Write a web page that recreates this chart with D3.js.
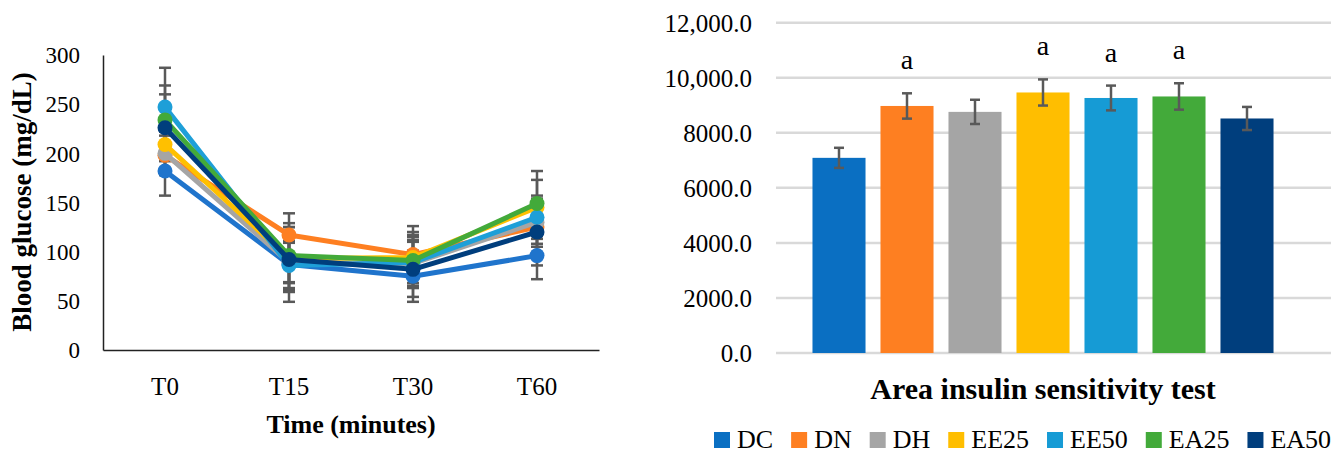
<!DOCTYPE html>
<html>
<head>
<meta charset="utf-8">
<script src="https://cdn.jsdelivr.net/npm/d3@7"></script>
<style>
  body { margin: 0; background: #fff; }
  svg text { font-family: "Liberation Serif", serif; fill: #000; }
</style>
</head>
<body>
<svg id="chart" width="1334" height="461"></svg>
<script>
// ---- data ----
var groups = ["DC", "DN", "DH", "EE25", "EE50", "EA25", "EA50"];
var colors = ["#0a6fc2", "#fe7f21", "#a5a5a5", "#ffbe00", "#169bd5", "#43aa3a", "#003e7d"];
var lineColors = ["#1f74cc", "#fe7f21", "#a5a5a5", "#ffc000", "#1e9fd8", "#43aa3a", "#003e7d"];

var times = ["T0", "T15", "T30", "T60"];
var glucoseTicks = [0, 50, 100, 150, 200, 250, 300];

// blood glucose per group (mg/dL) at T0, T15, T30, T60
var glucoseDC   = [182, 87, 75, 96];
var glucoseDN   = [198, 117, 97, 125];
var glucoseDH   = [200, 89, 88, 130];
var glucoseEE25 = [209, 93, 94, 145];
var glucoseEE50 = [247, 86, 89, 135];
var glucoseEA25 = [234, 96, 91, 149];
var glucoseEA50 = [226, 92, 82, 120];

// error (+/-)
var errDC   = [25, 38, 26, 24];
var errDN   = [20, 22, 29, 20];
var errDH   = [22, 20, 24, 22];
var errEE25 = [24, 25, 26, 28];
var errEE50 = [40, 25, 26, 22];
var errEA25 = [35, 33, 26, 33];
var errEA50 = [34, 33, 28, 34];

var glucose = [glucoseDC, glucoseDN, glucoseDH, glucoseEE25, glucoseEE50, glucoseEA25, glucoseEA50];
var glucoseErr = [errDC, errDN, errDH, errEE25, errEE50, errEA25, errEA50];

// area insulin sensitivity test
var areaValues = [7090, 8975, 8760, 9465, 9265, 9320, 8520];
var areaErr = [365, 460, 440, 475, 450, 480, 420];
var areaLetters = ["", "a", "", "a", "a", "a", ""];
var areaTickValues = [0, 2000, 4000, 6000, 8000, 10000, 12000];
var areaTickLabels = ["0.0", "2000.0", "4000.0", "6000.0", "8000.0", "10,000.0", "12,000.0"];

var svg = d3.select("#chart");
var errColor = "#595959";

// ================= left : line chart =================
var x1 = d3.scaleBand().domain(times).range([103, 599]);
var y1 = d3.scaleLinear().domain([0, 300]).range([350, 55]);

var left = svg.append("g").attr("class", "left");

var yAx1 = left.append("g")
  .attr("transform", "translate(103,0)")
  .call(d3.axisLeft(y1).tickValues(glucoseTicks).tickSize(0).tickPadding(23));
yAx1.select(".domain").attr("stroke", "#222").attr("stroke-width", 1.5);
yAx1.selectAll("text").style("font-size", "23px").attr("dy", "0.34em");

var xAx1 = left.append("g")
  .attr("transform", "translate(0,350)")
  .call(d3.axisBottom(x1).tickSize(0).tickPadding(27));
xAx1.select(".domain").attr("stroke", "#222").attr("stroke-width", 1.5);
xAx1.selectAll("text").style("font-size", "25px");

left.append("text")
  .attr("transform", "translate(31,202) rotate(-90)")
  .attr("text-anchor", "middle")
  .style("font-size", "27px").style("font-weight", "bold")
  .text("Blood glucose (mg/dL)");

left.append("text")
  .attr("x", 351).attr("y", 433)
  .attr("text-anchor", "middle")
  .style("font-size", "26px").style("font-weight", "bold")
  .text("Time (minutes)");

var cx = function (i) { return x1(times[i]) + x1.bandwidth() / 2; };

// error bars behind the lines
groups.forEach(function (g, gi) {
  var eb = left.append("g").attr("stroke", errColor).attr("stroke-width", 2.5);
  glucose[gi].forEach(function (v, i) {
    var e = glucoseErr[gi][i];
    eb.append("line").attr("x1", cx(i)).attr("x2", cx(i))
      .attr("y1", y1(v - e)).attr("y2", y1(v + e));
    [v - e, v + e].forEach(function (w) {
      eb.append("line").attr("x1", cx(i) - 6).attr("x2", cx(i) + 6)
        .attr("y1", y1(w)).attr("y2", y1(w));
    });
  });
});

var line = d3.line()
  .x(function (d, i) { return cx(i); })
  .y(function (d) { return y1(d); });

groups.forEach(function (g, gi) {
  var s = left.append("g");
  s.append("path")
    .datum(glucose[gi])
    .attr("d", line)
    .attr("fill", "none")
    .attr("stroke", lineColors[gi])
    .attr("stroke-width", 5)
    .attr("stroke-linejoin", "round");
  s.selectAll("circle")
    .data(glucose[gi])
    .enter().append("circle")
    .attr("cx", function (d, i) { return cx(i); })
    .attr("cy", function (d) { return y1(d); })
    .attr("r", 7.5)
    .attr("fill", lineColors[gi]);
});

// ================= right : bar chart =================
var right = svg.append("g").attr("class", "right");
var x2 = d3.scaleBand().domain(groups).range([805, 1281]).paddingInner(0.22).paddingOuter(0.11);
var y2 = d3.scaleLinear().domain([0, 12000]).range([353, 22.7]);

right.selectAll("line.grid")
  .data(areaTickValues)
  .enter().append("line")
  .attr("class", "grid")
  .attr("x1", 776).attr("x2", 1331)
  .attr("y1", function (d) { return y2(d); })
  .attr("y2", function (d) { return y2(d); })
  .attr("stroke", "#d9d9d9")
  .attr("stroke-width", 2.5);

var yAx2 = right.append("g")
  .attr("transform", "translate(776,0)")
  .call(d3.axisLeft(y2).tickValues(areaTickValues)
    .tickFormat(function (d, i) { return areaTickLabels[i]; })
    .tickSize(0).tickPadding(24));
yAx2.select(".domain").remove();
yAx2.selectAll("text").style("font-size", "25px").attr("dy", "0.34em");

right.selectAll("rect.bar")
  .data(areaValues)
  .enter().append("rect")
  .attr("class", "bar")
  .attr("x", function (d, i) { return x2(groups[i]); })
  .attr("width", x2.bandwidth())
  .attr("y", function (d) { return y2(d); })
  .attr("height", function (d) { return y2(0) - y2(d); })
  .attr("fill", function (d, i) { return colors[i]; });

var bx = function (i) { return x2(groups[i]) + x2.bandwidth() / 2; };
var ebars = right.append("g").attr("stroke", errColor).attr("stroke-width", 2.5);
areaValues.forEach(function (v, i) {
  var e = areaErr[i];
  ebars.append("line").attr("x1", bx(i)).attr("x2", bx(i))
    .attr("y1", y2(v - e)).attr("y2", y2(v + e));
  [v - e, v + e].forEach(function (w) {
    ebars.append("line").attr("x1", bx(i) - 5).attr("x2", bx(i) + 5)
      .attr("y1", y2(w)).attr("y2", y2(w));
  });
});

right.selectAll("text.letter")
  .data(areaLetters)
  .enter().append("text")
  .attr("class", "letter")
  .attr("x", function (d, i) { return bx(i); })
  .attr("y", function (d, i) { return y2(areaValues[i] + areaErr[i]) - 24; })
  .attr("text-anchor", "middle")
  .style("font-size", "28px")
  .text(function (d) { return d; });

right.append("text")
  .attr("x", 1043).attr("y", 399)
  .attr("text-anchor", "middle")
  .style("font-size", "30px").style("font-weight", "bold")
  .text("Area insulin sensitivity test");

// legend
var legend = svg.append("g").attr("class", "legend");
var lx = 714, ly = 448;
groups.forEach(function (g, gi) {
  legend.append("rect")
    .attr("x", lx).attr("y", ly - 16)
    .attr("width", 16).attr("height", 16)
    .attr("fill", colors[gi]);
  var t = legend.append("text")
    .attr("x", lx + 23).attr("y", ly)
    .style("font-size", "26px")
    .text(g);
  lx += 23 + t.node().getComputedTextLength() + 18;
});
</script>
</body>
</html>
